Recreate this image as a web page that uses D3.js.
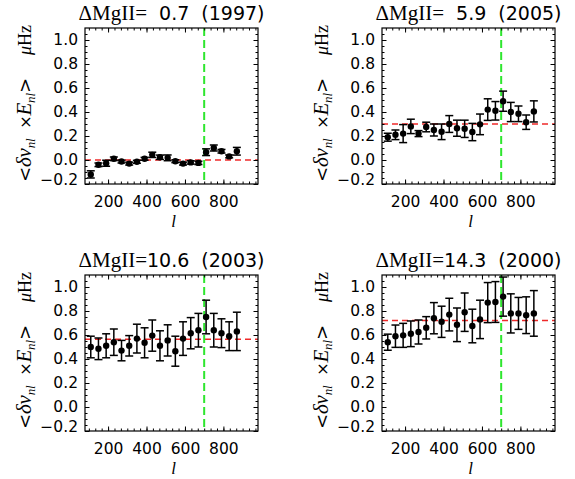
<!DOCTYPE html>
<html>
<head>
<meta charset="utf-8">
<script src="https://cdn.jsdelivr.net/npm/d3@7"></script>
<style>
body{margin:0;background:#fff;}
svg text{font-family:"DejaVu Sans",sans-serif;fill:#000;}
</style>
</head>
<body>
<script>
//数据
var lValues = [110,150,190,230,270,310,350,390,430,470,510,550,590,630,670,710,750,790,830,870];

var dMgII = [0.7, 5.9, 10.6, 14.3];
var years = [1997, 2005, 2003, 2000];

var shift1997 = [-0.12,-0.04,-0.027,0.01,-0.013,-0.03,-0.015,0.01,0.043,0.023,0.018,-0.01,-0.03,-0.02,-0.024,0.065,0.10,0.073,0.03,0.073];
var err1997   = [0.03,0.015,0.025,0.015,0.012,0.012,0.012,0.012,0.022,0.018,0.024,0.012,0.012,0.014,0.014,0.028,0.025,0.015,0.012,0.032];

var shift2005 = [0.19,0.21,0.22,0.28,0.22,0.275,0.25,0.235,0.30,0.265,0.26,0.233,0.297,0.42,0.41,0.49,0.40,0.385,0.315,0.405];
var err2005   = [0.033,0.04,0.075,0.06,0.025,0.04,0.05,0.065,0.07,0.067,0.072,0.072,0.086,0.09,0.077,0.084,0.08,0.065,0.06,0.088];

var shift2003 = [0.50,0.485,0.51,0.54,0.47,0.51,0.57,0.535,0.595,0.51,0.555,0.465,0.57,0.615,0.64,0.75,0.64,0.615,0.59,0.63];
var err2003   = [0.09,0.09,0.1,0.11,0.085,0.085,0.12,0.125,0.13,0.125,0.13,0.125,0.14,0.13,0.14,0.14,0.14,0.12,0.12,0.16];

var shift2000 = [0.54,0.59,0.597,0.61,0.625,0.66,0.74,0.71,0.77,0.685,0.79,0.675,0.73,0.87,0.875,0.92,0.78,0.78,0.765,0.78];
var err2000   = [0.067,0.093,0.1,0.107,0.1,0.093,0.13,0.13,0.136,0.14,0.16,0.14,0.16,0.167,0.17,0.163,0.163,0.133,0.153,0.19];

var meanShift = [0.0, 0.30, 0.565, 0.72];
var lCut = 700;

var xTicks = [200,400,600,800];
var yTicks = [-0.2,0.0,0.2,0.4,0.6,0.8,1.0];

var shifts = [shift1997, shift2005, shift2003, shift2000];
var errs = [err1997, err2005, err2003, err2000];

//画布
var svg = d3.select("body").append("svg")
	.attr("width", 575)
	.attr("height", 479);

var W = 173, H = 156;
var boxes = [{x:85, y:28}, {x:382, y:28}, {x:85, y:275}, {x:382, y:275}];

var x = d3.scaleLinear().domain([80, 980]).range([0, W]);
var y = d3.scaleLinear().domain([-0.2, 1.1]).range([H, 0]);

var xMinor = d3.range(100, 980, 200/6);
var yMinor = d3.range(-0.2, 1.1, 0.05);

boxes.forEach(function(b, k){
	var g = svg.append("g")
		.attr("transform", "translate("+b.x+","+b.y+")");

	//参考线
	g.append("line")
		.attr("x1", 0).attr("x2", W)
		.attr("y1", y(meanShift[k])).attr("y2", y(meanShift[k]))
		.attr("stroke", "#ee2a2a")
		.attr("stroke-width", 1.5)
		.attr("stroke-dasharray", "6,4");
	g.append("line")
		.attr("x1", x(lCut)).attr("x2", x(lCut))
		.attr("y1", 0).attr("y2", H)
		.attr("stroke", "#2ee62e")
		.attr("stroke-width", 2)
		.attr("stroke-dasharray", "8,4");

	//坐标轴
	var ax = g.append("g").attr("transform", "translate(0,"+H+")")
		.call(d3.axisBottom(x).tickValues(xTicks).tickSize(-4.5).tickSizeOuter(0).tickPadding(12));
	g.append("g").attr("transform", "translate(0,"+H+")")
		.call(d3.axisBottom(x).tickValues(xMinor).tickSize(-2.5).tickSizeOuter(0).tickFormat(""));
	g.append("g")
		.call(d3.axisTop(x).tickValues(xTicks).tickSize(-4.5).tickSizeOuter(0).tickFormat(""));
	g.append("g")
		.call(d3.axisTop(x).tickValues(xMinor).tickSize(-2.5).tickSizeOuter(0).tickFormat(""));

	var ay = g.append("g")
		.call(d3.axisLeft(y).tickValues(yTicks).tickSize(-4.5).tickSizeOuter(0).tickPadding(7)
			.tickFormat(function(d){ return d3.format(".1f")(d).replace("-", "\u2212"); }));
	g.append("g")
		.call(d3.axisLeft(y).tickValues(yMinor).tickSize(-2.5).tickSizeOuter(0).tickFormat(""));
	g.append("g").attr("transform", "translate("+W+",0)")
		.call(d3.axisRight(y).tickValues(yTicks).tickSize(-4.5).tickSizeOuter(0).tickFormat(""));
	g.append("g").attr("transform", "translate("+W+",0)")
		.call(d3.axisRight(y).tickValues(yMinor).tickSize(-2.5).tickSizeOuter(0).tickFormat(""));

	g.selectAll(".domain").remove();
	g.selectAll(".tick line").attr("stroke", "#000").attr("stroke-width", 1);
	ax.selectAll("text").style("font-size", "15.5px").style("font-family", "DejaVu Sans");
	ay.selectAll("text").style("font-size", "15.5px").style("font-family", "DejaVu Sans");
	//最下面的标签往上挪
	ay.selectAll(".tick text").filter(function(d){ return d < -0.1; }).attr("y", -4);

	g.append("rect")
		.attr("width", W).attr("height", H)
		.attr("fill", "none")
		.attr("stroke", "#000")
		.attr("stroke-width", 1.2);

	//数据点
	var dataset = [];
	lValues.forEach(function(l, i){
		dataset.push([l, shifts[k][i], errs[k][i]]);
	});

	var bars = g.selectAll("g.bar").data(dataset).enter().append("g").attr("class", "bar");
	bars.append("line")
		.attr("x1", function(d){ return x(d[0]); })
		.attr("x2", function(d){ return x(d[0]); })
		.attr("y1", function(d){ return y(d[1]-d[2]); })
		.attr("y2", function(d){ return y(d[1]+d[2]); })
		.attr("stroke", "#000").attr("stroke-width", 1.5);
	bars.append("line")
		.attr("x1", function(d){ return x(d[0])-4; })
		.attr("x2", function(d){ return x(d[0])+4; })
		.attr("y1", function(d){ return y(d[1]+d[2]); })
		.attr("y2", function(d){ return y(d[1]+d[2]); })
		.attr("stroke", "#000").attr("stroke-width", 1.5);
	bars.append("line")
		.attr("x1", function(d){ return x(d[0])-4; })
		.attr("x2", function(d){ return x(d[0])+4; })
		.attr("y1", function(d){ return y(d[1]-d[2]); })
		.attr("y2", function(d){ return y(d[1]-d[2]); })
		.attr("stroke", "#000").attr("stroke-width", 1.5);
	bars.append("circle")
		.attr("cx", function(d){ return x(d[0]); })
		.attr("cy", function(d){ return y(d[1]); })
		.attr("r", 3.2)
		.attr("fill", "#000");

	//标题
	var vs = d3.format(".1f")(dMgII[k]);
	if(vs.length < 4) vs = "\u2007" + vs;
	var t = g.append("text")
		.attr("x", W/2).attr("y", -8)
		.attr("text-anchor", "middle")
		.attr("textLength", 186)
		.attr("lengthAdjust", "spacing")
		.style("white-space", "pre");
	t.append("tspan").style("font-family", "Liberation Serif").style("font-size", "21px").text("\u0394MgII=");
	t.append("tspan").style("font-family", "DejaVu Sans").style("font-size", "19px").text(vs + "  (" + years[k] + ")");

	//x轴标题
	g.append("text")
		.attr("x", W/2 + 2).attr("y", H + 43)
		.attr("text-anchor", "middle")
		.style("font-family", "Liberation Serif")
		.style("font-style", "italic")
		.style("font-size", "17px")
		.text("l");

	//y轴标题
	var yl = g.append("text")
		.attr("transform", "translate(-54,"+(H-2)+") rotate(-90)")
		.attr("textLength", 104)
		.attr("lengthAdjust", "spacing")
		.style("white-space", "pre");
	yl.append("tspan").style("font-size", "18px").text("<");
	yl.append("tspan").style("font-family", "Liberation Serif").style("font-style", "italic").style("font-size", "21px").text("\u03b4\u03bd");
	yl.append("tspan").attr("dy", 4).style("font-family", "Liberation Serif").style("font-style", "italic").style("font-size", "13px").text("nl");
	yl.append("tspan").attr("dy", -4).style("font-size", "16px").text("  \u00d7");
	yl.append("tspan").style("font-family", "Liberation Serif").style("font-style", "italic").style("font-size", "21px").text("E");
	yl.append("tspan").attr("dy", 4).style("font-family", "Liberation Serif").style("font-style", "italic").style("font-size", "13px").text("nl");
	yl.append("tspan").attr("dy", -4).style("font-size", "18px").text(">");

	var mu = g.append("text")
		.attr("transform", "translate(-54,"+(27)+") rotate(-90)")
		.style("font-family", "Liberation Serif")
		.style("font-size", "18px");
	mu.append("tspan").style("font-style", "italic").text("\u03bc");
	mu.append("tspan").text("Hz");
});
</script>
</body>
</html>
